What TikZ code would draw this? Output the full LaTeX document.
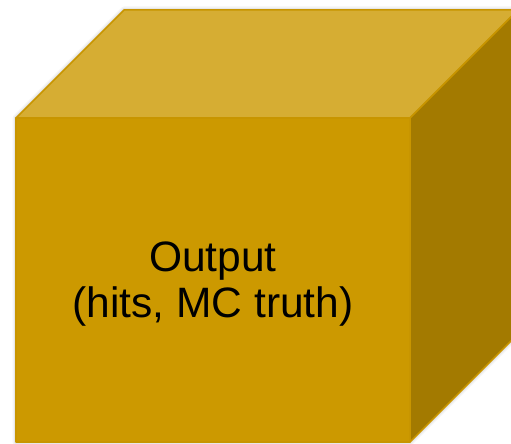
\documentclass[tikz,border=0pt]{standalone}
\usepackage{fontspec}
\setmainfont{Liberation Sans}
\usetikzlibrary{calc}
\definecolor{CubeFront}{RGB}{204,153,0}
\definecolor{CubeTop}{RGB}{214,173,51}
\definecolor{CubeSide}{RGB}{163,122,0}
\definecolor{CubeEdge}{RGB}{200,149,0}
\tikzset{
  face/.style={draw=CubeEdge,line width=1.5pt,line join=round},
  halo/.style={draw=black,line join=round},
  cubetext/.style={align=center,font=\fontsize{42.5}{46}\selectfont,text=black}
}

\begin{document}
\begin{tikzpicture}[x=1pt,y=1pt]
\useasboundingbox (0,0) rectangle (511,444);
\clip (0,0) rectangle (511,444);

% corners of the cube
\coordinate (fbl) at (16,2);
\coordinate (fbr) at (410,2);
\coordinate (ftr) at (410,326);
\coordinate (ftl) at (16,326);
\coordinate (btl) at (124,434);
\coordinate (btr) at (518,434);
\coordinate (bbr) at (518,110);

% soft shadow
\draw[halo,line width=7pt,opacity=0.04] (fbl) -- (ftl) -- (btl) -- (btr) -- (bbr) -- (fbr) -- cycle;
\draw[halo,line width=4pt,opacity=0.06] (fbl) -- (ftl) -- (btl) -- (btr) -- (bbr) -- (fbr) -- cycle;

% faces
\path[face,fill=CubeFront] (fbl) rectangle (ftr);
\path[face,fill=CubeTop] (ftl) -- (btl) -- (btr) -- (ftr) -- cycle;
\path[face,fill=CubeSide] (ftr) -- (btr) -- (bbr) -- (fbr) -- cycle;

\node[cubetext] (out) at (213,160) {Output\\(hits, MC truth)};
\end{tikzpicture}
\end{document}
